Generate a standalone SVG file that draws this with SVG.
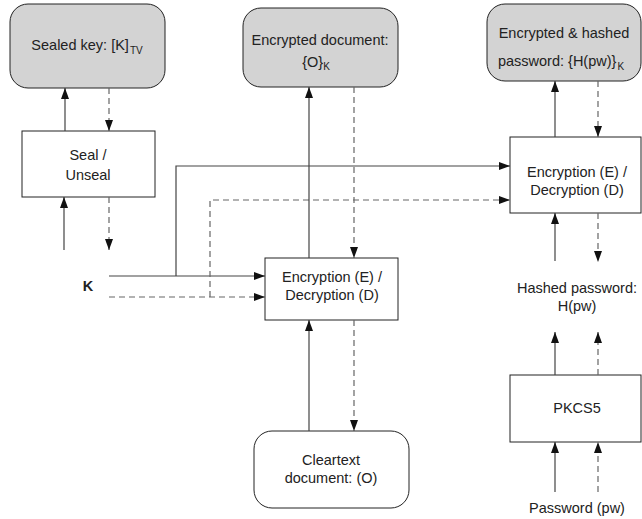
<svg xmlns="http://www.w3.org/2000/svg" width="642" height="519" viewBox="0 0 642 519">
<defs>
<marker id="ah" markerUnits="userSpaceOnUse" markerWidth="12" markerHeight="9" refX="11" refY="4" orient="auto">
<path d="M0,0 L11,4 L0,8 z" fill="#111"/>
</marker>
</defs>
<style>
.t{font-family:"Liberation Sans",Arial,sans-serif;font-size:14.5px;fill:#222;text-anchor:middle}
.sub{font-size:10px}
.box{fill:#fff;stroke:#222;stroke-width:1}
.gbox{fill:#d3d3d3;stroke:#222;stroke-width:1}
.s{fill:none;stroke:#444;stroke-width:1.2}
.d{fill:none;stroke:#666;stroke-width:1.2;stroke-dasharray:6 4}
.a{marker-end:url(#ah)}
</style>
<rect width="642" height="519" fill="#fff"/>

<g id="sealed-key">
<rect class="gbox" x="10" y="4" width="155" height="84" rx="18"/>
<text class="t" x="87" y="50">Sealed key: [K]<tspan class="sub" dx="1" dy="4">TV</tspan></text>
</g>

<g id="seal-unseal">
<rect class="box" x="22" y="131" width="133" height="66"/>
<text class="t" x="88" y="160">Seal /</text>
<text class="t" x="88" y="180">Unseal</text>
</g>

<g id="k-label">
<text class="t" x="88" y="291" style="font-weight:bold">K</text>
</g>

<g id="encrypted-document">
<rect class="gbox" x="243" y="8" width="155" height="79" rx="18"/>
<text class="t" x="320" y="45">Encrypted document:</text>
<text class="t" x="316" y="67">{O}<tspan class="sub" dy="3">K</tspan></text>
</g>

<g id="ed-center">
<rect class="box" x="265" y="258" width="133" height="62"/>
<text class="t" x="332" y="282">Encryption (E) /</text>
<text class="t" x="332" y="300">Decryption (D)</text>
</g>

<g id="cleartext">
<rect class="box" x="254" y="431" width="155" height="77" rx="18"/>
<text class="t" x="331" y="465">Cleartext</text>
<text class="t" x="331" y="483">document: (O)</text>
</g>

<g id="encrypted-hashed">
<rect class="gbox" x="487" y="4" width="154" height="77" rx="18"/>
<text class="t" x="564" y="38">Encrypted &amp; hashed</text>
<text class="t" x="561" y="66">password: {H(pw)}<tspan class="sub" dx="1" dy="4">K</tspan></text>
</g>

<g id="ed-right">
<rect class="box" x="510" y="137" width="131" height="76"/>
<text class="t" x="577" y="177">Encryption (E) /</text>
<text class="t" x="577" y="195">Decryption (D)</text>
</g>

<g id="hashed-password">
<text class="t" x="577" y="293">Hashed password:</text>
<text class="t" x="577" y="311">H(pw)</text>
</g>

<g id="pkcs5">
<rect class="box" x="510" y="375" width="131" height="67"/>
<text class="t" x="577" y="413">PKCS5</text>
</g>

<g id="password">
<text class="t" x="577" y="513">Password (pw)</text>
</g>

<g id="connectors">
<line class="s a" x1="65" y1="131" x2="65" y2="88"/>
<line class="d a" x1="109" y1="88" x2="109" y2="131"/>
<line class="s a" x1="64" y1="250" x2="64" y2="197"/>
<line class="d a" x1="109" y1="197" x2="109" y2="250"/>
<line class="s a" x1="109" y1="276" x2="265" y2="276"/>
<line class="d a" x1="109" y1="297" x2="265" y2="297"/>
<polyline class="s a" points="176,276 176,166 510,166"/>
<polyline class="d a" points="210,297 210,200 510,200"/>
<line class="s a" x1="309" y1="258" x2="309" y2="87"/>
<line class="d a" x1="354" y1="87" x2="354" y2="258"/>
<line class="s a" x1="309" y1="431" x2="309" y2="320"/>
<line class="d a" x1="354" y1="320" x2="354" y2="431"/>
<line class="s a" x1="555" y1="137" x2="555" y2="81"/>
<line class="d a" x1="598" y1="81" x2="598" y2="137"/>
<line class="s a" x1="555" y1="261" x2="555" y2="213"/>
<line class="d a" x1="598" y1="213" x2="598" y2="262"/>
<line class="s a" x1="555" y1="375" x2="555" y2="332"/>
<line class="d a" x1="598" y1="375" x2="598" y2="332"/>
<line class="s a" x1="555" y1="492" x2="555" y2="442"/>
<line class="d a" x1="598" y1="492" x2="598" y2="442"/>
</g>
</svg>
